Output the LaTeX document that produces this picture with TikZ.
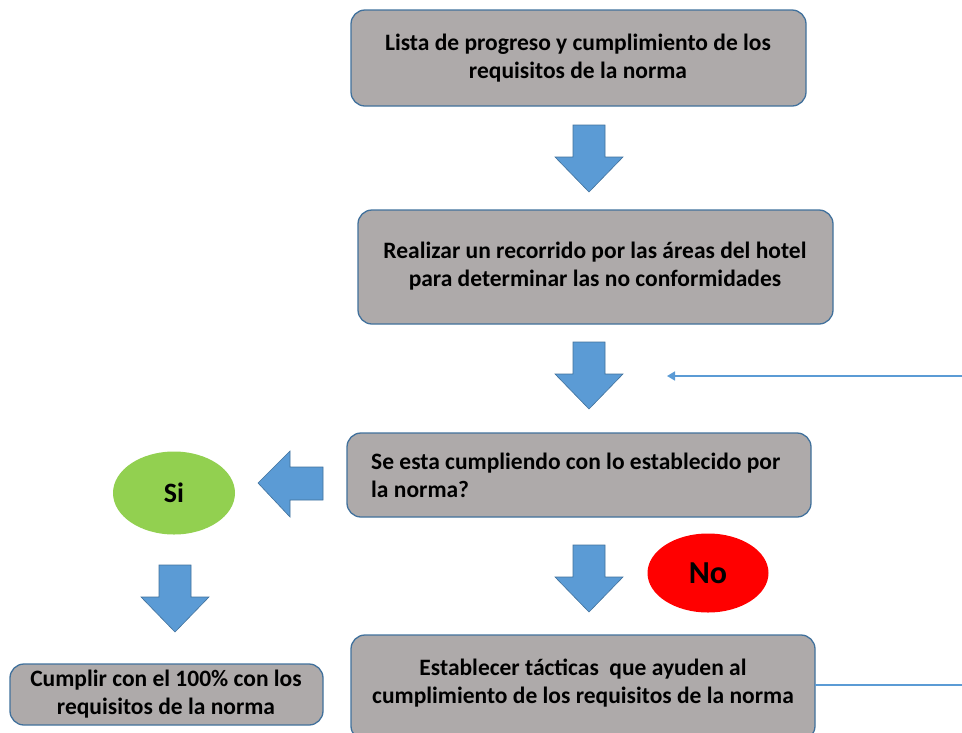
\documentclass[tikz,border=0pt]{standalone}
\usepackage{fontspec}
\setmainfont{Carlito}
\usetikzlibrary{shapes.geometric,arrows.meta}
\definecolor{boxgray}{HTML}{AEAAAA}
\definecolor{boxedge}{HTML}{41719C}
\definecolor{arrowblue}{HTML}{5B9BD5}
\definecolor{sigreen}{HTML}{92D050}
\tikzset{
  stepbox/.style={draw=boxedge, line width=1.3pt, fill=boxgray, rounded corners=14pt},
  steptext/.style={font=\bfseries\fontsize{23.5}{28}\selectfont, text=black, align=center, inner sep=0pt},
  blockarrow/.style={fill=arrowblue, draw=boxedge, line width=0.6pt},
  oval/.style={ellipse, inner sep=0pt, font=\bfseries\fontsize{28}{32}\selectfont, text=black},
  thinline/.style={draw=arrowblue, line width=1.5pt}
}
\newcommand{\downblock}[2]{%
  \path[blockarrow] (#1-16,#2) -- (#1+16,#2) -- (#1+16,#2+32) -- (#1+34,#2+32)
    -- (#1,#2+67) -- (#1-34,#2+32) -- (#1-16,#2+32) -- cycle;}
\begin{document}
\begin{tikzpicture}[x=1pt,y=-1pt]
\useasboundingbox (0,0) rectangle (962,732);
% boxes
\path[stepbox] (351,10) rectangle (806,106);
\node (b1) [steptext] at (578,58)
  {Lista de progreso y cumplimiento de los\\requisitos de la norma};
\path[stepbox] (358,210) rectangle (833,324);
\node (b2) [steptext] at (595,266)
  {Realizar un recorrido por las áreas del hotel\\para determinar las no conformidades};
\path[stepbox] (347,433) rectangle (811,517);
\node (b3) [steptext, align=left, anchor=west] at (371,475)
  {Se esta cumpliendo con lo establecido por\\la norma?};
\path[stepbox] (10,664) rectangle (323,725);
\node (b4) [steptext] at (166,694)
  {Cumplir con el 100\% con los\\requisitos de la norma};
\path[stepbox] (351,635) rectangle (815,740);
\node (b5) [steptext] at (583,683)
  {Establecer tácticas\ \ que ayuden al\\cumplimiento de los requisitos de la norma};
\coordinate (b5r) at (815,685);
% ovals
\node (si) [oval, fill=sigreen, minimum width=122pt, minimum height=83pt] at (174,493) {Si};
\node (no) [oval, fill=red, minimum width=121pt, minimum height=79pt,
  font=\bfseries\fontsize{32}{36}\selectfont] at (708,573) {No};
% block arrows
\downblock{589}{125}
\downblock{589}{342}
\downblock{589}{545}
\downblock{175}{565}
\path[blockarrow] (323,467) -- (323,500) -- (290,500) -- (290,517) -- (258,483)
  -- (290,451) -- (290,467) -- cycle;
% thin connectors
\coordinate (rin) at (962,376);
\coordinate (rtip) at (667,376);
\draw[thinline, -{Triangle[length=8pt,width=9pt]}] (rin) -- (rtip);
\coordinate (rout) at (962,685);
\draw[thinline] (b5r) -- (rout);
\end{tikzpicture}
\end{document}
